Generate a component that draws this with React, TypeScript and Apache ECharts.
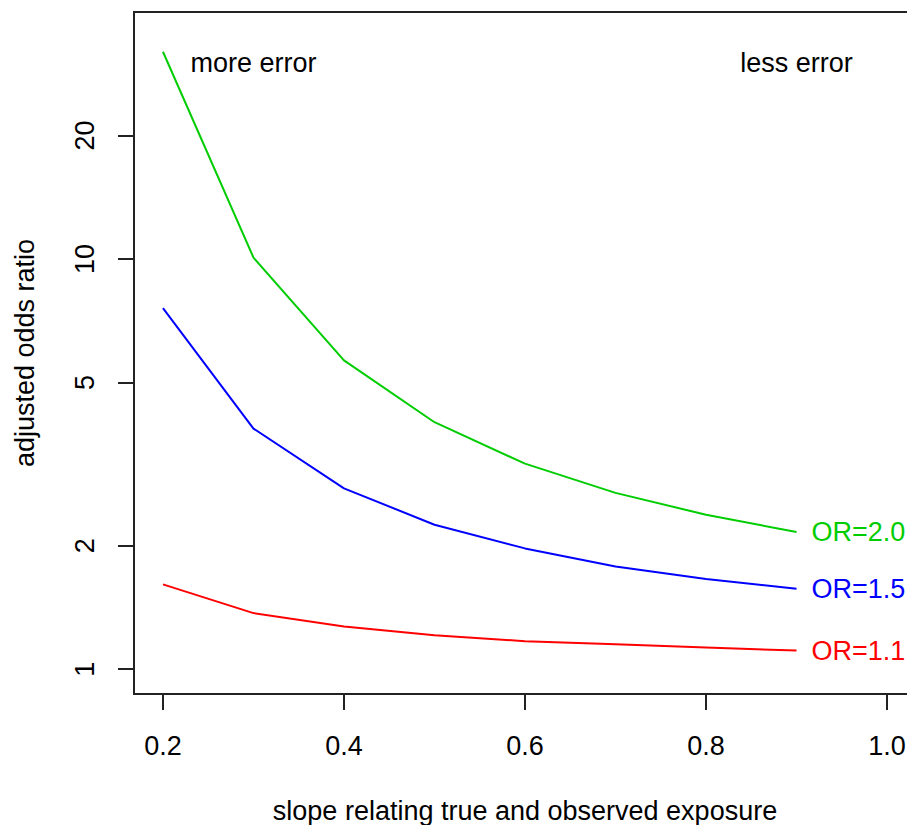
import React, { useEffect, useRef } from "react";
import * as echarts from "echarts";

const slopes = [0.2, 0.3, 0.4, 0.5, 0.6, 0.7, 0.8, 0.9];
const or20 = [32.0, 10.08, 5.66, 4.0, 3.17, 2.69, 2.38, 2.16];
const or15 = [7.59, 3.86, 2.76, 2.25, 1.97, 1.78, 1.66, 1.57];
const or11 = [1.61, 1.37, 1.27, 1.21, 1.17, 1.15, 1.13, 1.11];
const seriesNames = ["OR=2.0", "OR=1.5", "OR=1.1"];
const seriesColors = ["#00CD00", "#0000FF", "#FF0000"];
const xTicks = [0.2, 0.4, 0.6, 0.8, 1.0];
const yTicks = [1, 2, 5, 10, 20];
const notes = ["more error", "less error"];
const noteX = [0.3, 0.9];
const noteY = [30, 30];

const FONT = "'Liberation Sans', Arial, sans-serif";

export default function App() {
  const ref = useRef<HTMLDivElement>(null);
  useEffect(() => {
    if (!ref.current) return;
    const chart = echarts.init(ref.current, undefined, { renderer: "svg" });
    const values = [or20, or15, or11];
    const lineSeries = values.map((vals, i) => ({
      type: "line",
      name: seriesNames[i],
      data: slopes.map((s, j) => [s, vals[j]]),
      symbol: "none",
      lineStyle: { color: seriesColors[i], width: 2 },
      itemStyle: { color: seriesColors[i] },
      clip: false,
      endLabel: {
        show: true,
        formatter: seriesNames[i],
        color: seriesColors[i],
        fontSize: 27,
        fontFamily: FONT,
        distance: 15,
      },
    }));
    chart.setOption({
      animation: false,
      backgroundColor: "#ffffff",
      textStyle: { fontFamily: FONT },
      grid: {
        left: 134,
        top: 12,
        width: 782,
        height: 682,
        show: true,
        borderColor: "#222",
        borderWidth: 2,
        containLabel: false,
        outerBoundsMode: "none",
      },
      xAxis: {
        type: "value",
        min: 0.168,
        max: 1.032,
        name: "slope relating true and observed exposure",
        nameLocation: "middle",
        nameGap: 103,
        nameTextStyle: { fontSize: 27, color: "#000", fontFamily: FONT },
        axisLine: { show: false },
        splitLine: { show: false },
        axisTick: {
          show: true,
          length: 16,
          customValues: xTicks,
          lineStyle: { color: "#222", width: 2 },
        },
        axisLabel: {
          customValues: xTicks,
          fontSize: 27,
          color: "#000",
          fontFamily: FONT,
          margin: 38,
          formatter: (v: number) => v.toFixed(1),
        },
      },
      yAxis: {
        type: "log",
        logBase: 10,
        min: 0.87,
        max: 40,
        name: "adjusted odds ratio",
        nameLocation: "middle",
        nameGap: 96,
        nameTextStyle: { fontSize: 27, color: "#000", fontFamily: FONT },
        axisLine: { show: false },
        splitLine: { show: false },
        axisTick: {
          show: true,
          length: 16,
          customValues: yTicks,
          lineStyle: { color: "#222", width: 2 },
        },
        axisLabel: {
          customValues: yTicks,
          fontSize: 27,
          color: "#000",
          fontFamily: FONT,
          rotate: 90,
          margin: 36,
          formatter: (v: number) => String(Math.round(v)),
        },
      },
      series: [
        ...lineSeries,
        {
          type: "scatter",
          data: notes.map((n, i) => ({ name: n, value: [noteX[i], noteY[i]] })),
          symbolSize: 1,
          itemStyle: { color: "rgba(0,0,0,0)", opacity: 1 },
          label: {
            show: true,
            position: "inside",
            formatter: (p: any) => p.name,
            color: "#000",
            opacity: 1,
            textBorderWidth: 0,
            fontSize: 27,
            fontFamily: FONT,
          },
        },
      ],
    });
    return () => chart.dispose();
  }, []);
  return (
    <div
      ref={ref}
      style={{ position: "absolute", left: 0, top: 0, width: 907, height: 825 }}
    />
  );
}
